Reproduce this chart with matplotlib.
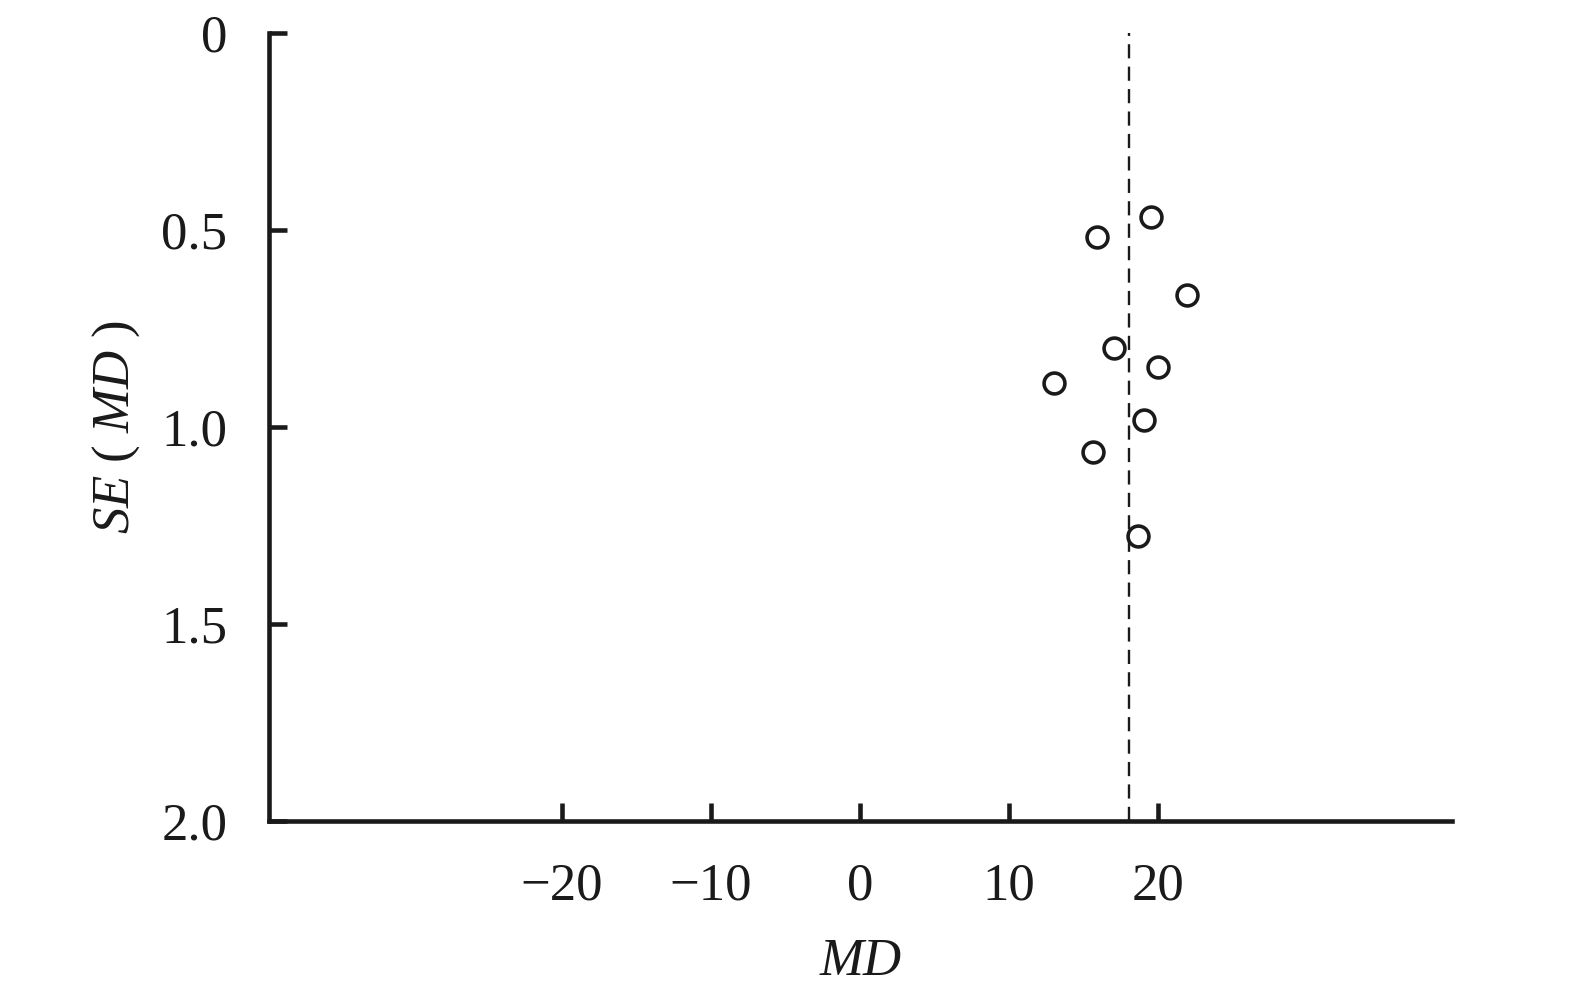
import matplotlib
matplotlib.use("Agg")
from matplotlib import pyplot as plt

# study effects (MD) and their standard errors
md = [19.5, 15.9, 21.9, 17.0, 20.0, 13.0, 19.0, 15.6, 18.6]
se = [0.467, 0.518, 0.666, 0.801, 0.847, 0.888, 0.982, 1.064, 1.278]
pooled_md = 18.0

x_ticks = [-20, -10, 0, 10, 20]
y_ticks = [0, 0.5, 1.0, 1.5, 2.0]
y_tick_labels = ["0", "0.5", "1.0", "1.5", "2.0"]

plt.rcParams["font.family"] = ["Liberation Serif", "DejaVu Serif"]
plt.rcParams["mathtext.fontset"] = "custom"
plt.rcParams["mathtext.rm"] = "Liberation Serif"
plt.rcParams["mathtext.it"] = "Liberation Serif:italic"

fig = plt.figure(figsize=(15.75, 9.98), dpi=100)
ax = fig.add_axes([0.1708, 0.1777, 0.9222 - 0.1708, 0.967 - 0.1777])

ax.axvline(pooled_md, color="#1a1a1a", lw=1.7, ls=(0, (6, 3.5)), zorder=1)
ax.plot(md, se, "o", ms=15, mfc="white", mec="#1a1a1a", mew=2.6, ls="none", zorder=2)

ax.set_xlim(-39.6, 39.7)
ax.set_ylim(2.0, 0)

ax.spines["top"].set_visible(False)
ax.spines["right"].set_visible(False)
for s in ("left", "bottom"):
    ax.spines[s].set_linewidth(3.3)
    ax.spines[s].set_color("#1a1a1a")

ax.set_xticks(x_ticks)
ax.set_xticklabels(["\u2212" + str(abs(v)) if v < 0 else str(v) for v in x_ticks])
ax.set_yticks(y_ticks)
ax.set_yticklabels(y_tick_labels)
ax.tick_params(direction="in", length=13, width=3.3, color="#1a1a1a",
               labelsize=38, labelcolor="#1a1a1a", pad=30)

ax.set_xlabel("MD", fontstyle="italic", fontsize=38, color="#1a1a1a", labelpad=20)
ax.set_ylabel(r"$\mathit{SE}\,\,(\,\,\mathit{MD}\,\,)$", fontsize=38, color="#1a1a1a", labelpad=14)

plt.savefig("out.png", dpi=100)
